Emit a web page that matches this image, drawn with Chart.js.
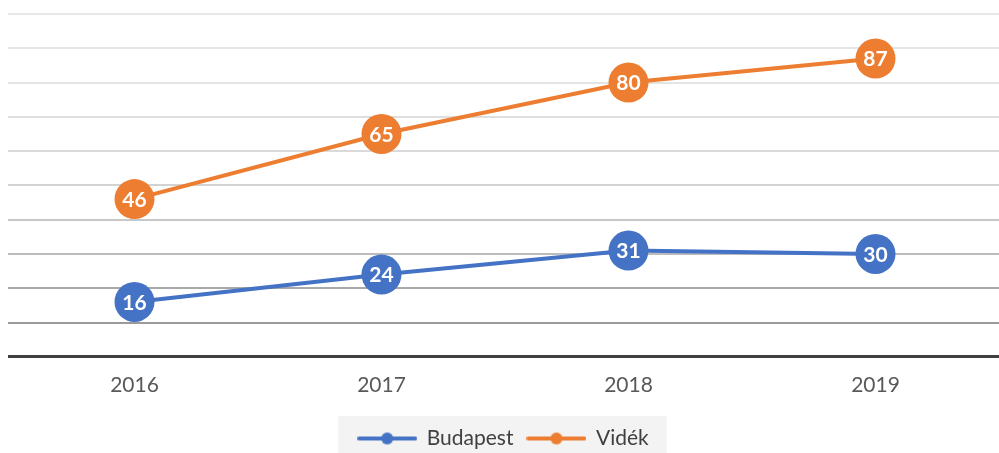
<!DOCTYPE html>
<html><head><meta charset="utf-8">
<script src="https://cdn.jsdelivr.net/npm/chart.js@4"></script>
<style>html,body{margin:0;padding:0;background:#fff;overflow:hidden;width:999px;height:453px;} #wrap{width:999px;height:459px;position:relative;}</style>
</head><body><div id="wrap"><canvas id="c"></canvas></div>
<script>
const categories = ['2016', '2017', '2018', '2019'];
const seriesNames = ['Budapest', 'Vidék'];
const budapestValues = [16, 24, 31, 30];
const videkValues = [46, 65, 80, 87];
const yMin = 0, yMax = 100, yStep = 10;

const BLUE = '#4472C4', ORANGE = '#ED7D31';
const FONT = 'Lato, "Open Sans", sans-serif';

function legendIcon(color) {
  const c = document.createElement('canvas');
  c.width = 60; c.height = 14;
  const g = c.getContext('2d');
  g.strokeStyle = color; g.lineWidth = 4; g.lineCap = 'round';
  g.beginPath(); g.moveTo(2, 7); g.lineTo(58, 7); g.stroke();
  g.fillStyle = color; g.beginPath(); g.arc(30, 7, 6, 0, Math.PI * 2); g.fill();
  return c;
}
const icons = [legendIcon(BLUE), legendIcon(ORANGE)];

const gridColors = ['#404040', '#9a9a9a', '#a9a9a9', '#bcbcbc', '#c8c8c8', '#d3d3d3', '#dadada', '#dfdfdf', '#e4e4e4', '#e6e6e6', '#e8e8e8'];

const valueLabels = {
  id: 'valueLabels',
  afterDatasetsDraw(chart) {
    const ctx = chart.ctx;
    ctx.save();
    ctx.fillStyle = '#ffffff';
    ctx.font = 'bold 21px ' + FONT;
    ctx.textAlign = 'center';
    ctx.textBaseline = 'middle';
    chart.data.datasets.forEach((ds, i) => {
      const meta = chart.getDatasetMeta(i);
      meta.data.forEach((pt, j) => {
        ctx.fillText(String(ds.data[j]), pt.x, pt.y + 1);
      });
    });
    ctx.restore();
  }
};

const legendBg = {
  id: 'legendBg',
  beforeDraw(chart) {
    const lg = chart.legend;
    if (!lg || !lg.legendHitBoxes || !lg.legendHitBoxes.length) return;
    const hb = lg.legendHitBoxes;
    const l = Math.min(...hb.map(h => h.left));
    const r = Math.max(...hb.map(h => h.left + h.width));
    const ctx = chart.ctx;
    ctx.save();
    ctx.fillStyle = '#f3f3f3';
    ctx.fillRect(l - 20, 416, (r - l) + 38, 43);
    ctx.restore();
  }
};

new Chart(document.getElementById('c'), {
  type: 'line',
  data: {
    labels: categories,
    datasets: [
      { label: seriesNames[0], data: budapestValues, borderColor: BLUE, backgroundColor: BLUE,
        borderWidth: 4, pointRadius: 20, pointHoverRadius: 20, pointBackgroundColor: BLUE, pointBorderWidth: 0, tension: 0, clip: false },
      { label: seriesNames[1], data: videkValues, borderColor: ORANGE, backgroundColor: ORANGE,
        borderWidth: 4, pointRadius: 20, pointHoverRadius: 20, pointBackgroundColor: ORANGE, pointBorderWidth: 0, tension: 0, clip: false }
    ]
  },
  options: {
    responsive: true,
    maintainAspectRatio: false,
    animation: false,
    events: [],
    layout: { autoPadding: false, padding: { top: 14, left: 8, right: 0, bottom: 0 } },
    scales: {
      x: {
        offset: true,
        grid: { display: false, drawTicks: false },
        border: { display: false },
        ticks: { color: '#595959', font: { family: FONT, size: 21 }, padding: 16 }
      },
      y: {
        min: yMin, max: yMax,
        ticks: { display: false, stepSize: yStep },
        border: { display: false },
        grid: {
          drawTicks: true, tickLength: 3,
          color: (ctx) => gridColors[ctx.index] || '#e6e6e6',
          lineWidth: (ctx) => ctx.index === 0 ? 3 : 2
        }
      }
    },
    plugins: {
      tooltip: { enabled: false },
      legend: {
        position: 'bottom',
        labels: {
          color: '#404040',
          font: { family: FONT, size: 21 },
          usePointStyle: true,
          pointStyleWidth: 58,
          boxHeight: 14,
          padding: 14,
          generateLabels(chart) {
            const items = Chart.defaults.plugins.legend.labels.generateLabels(chart);
            items.forEach((it, i) => { it.pointStyle = icons[i]; });
            return items;
          }
        }
      }
    }
  },
  plugins: [legendBg, valueLabels]
});
</script>
</body></html>
